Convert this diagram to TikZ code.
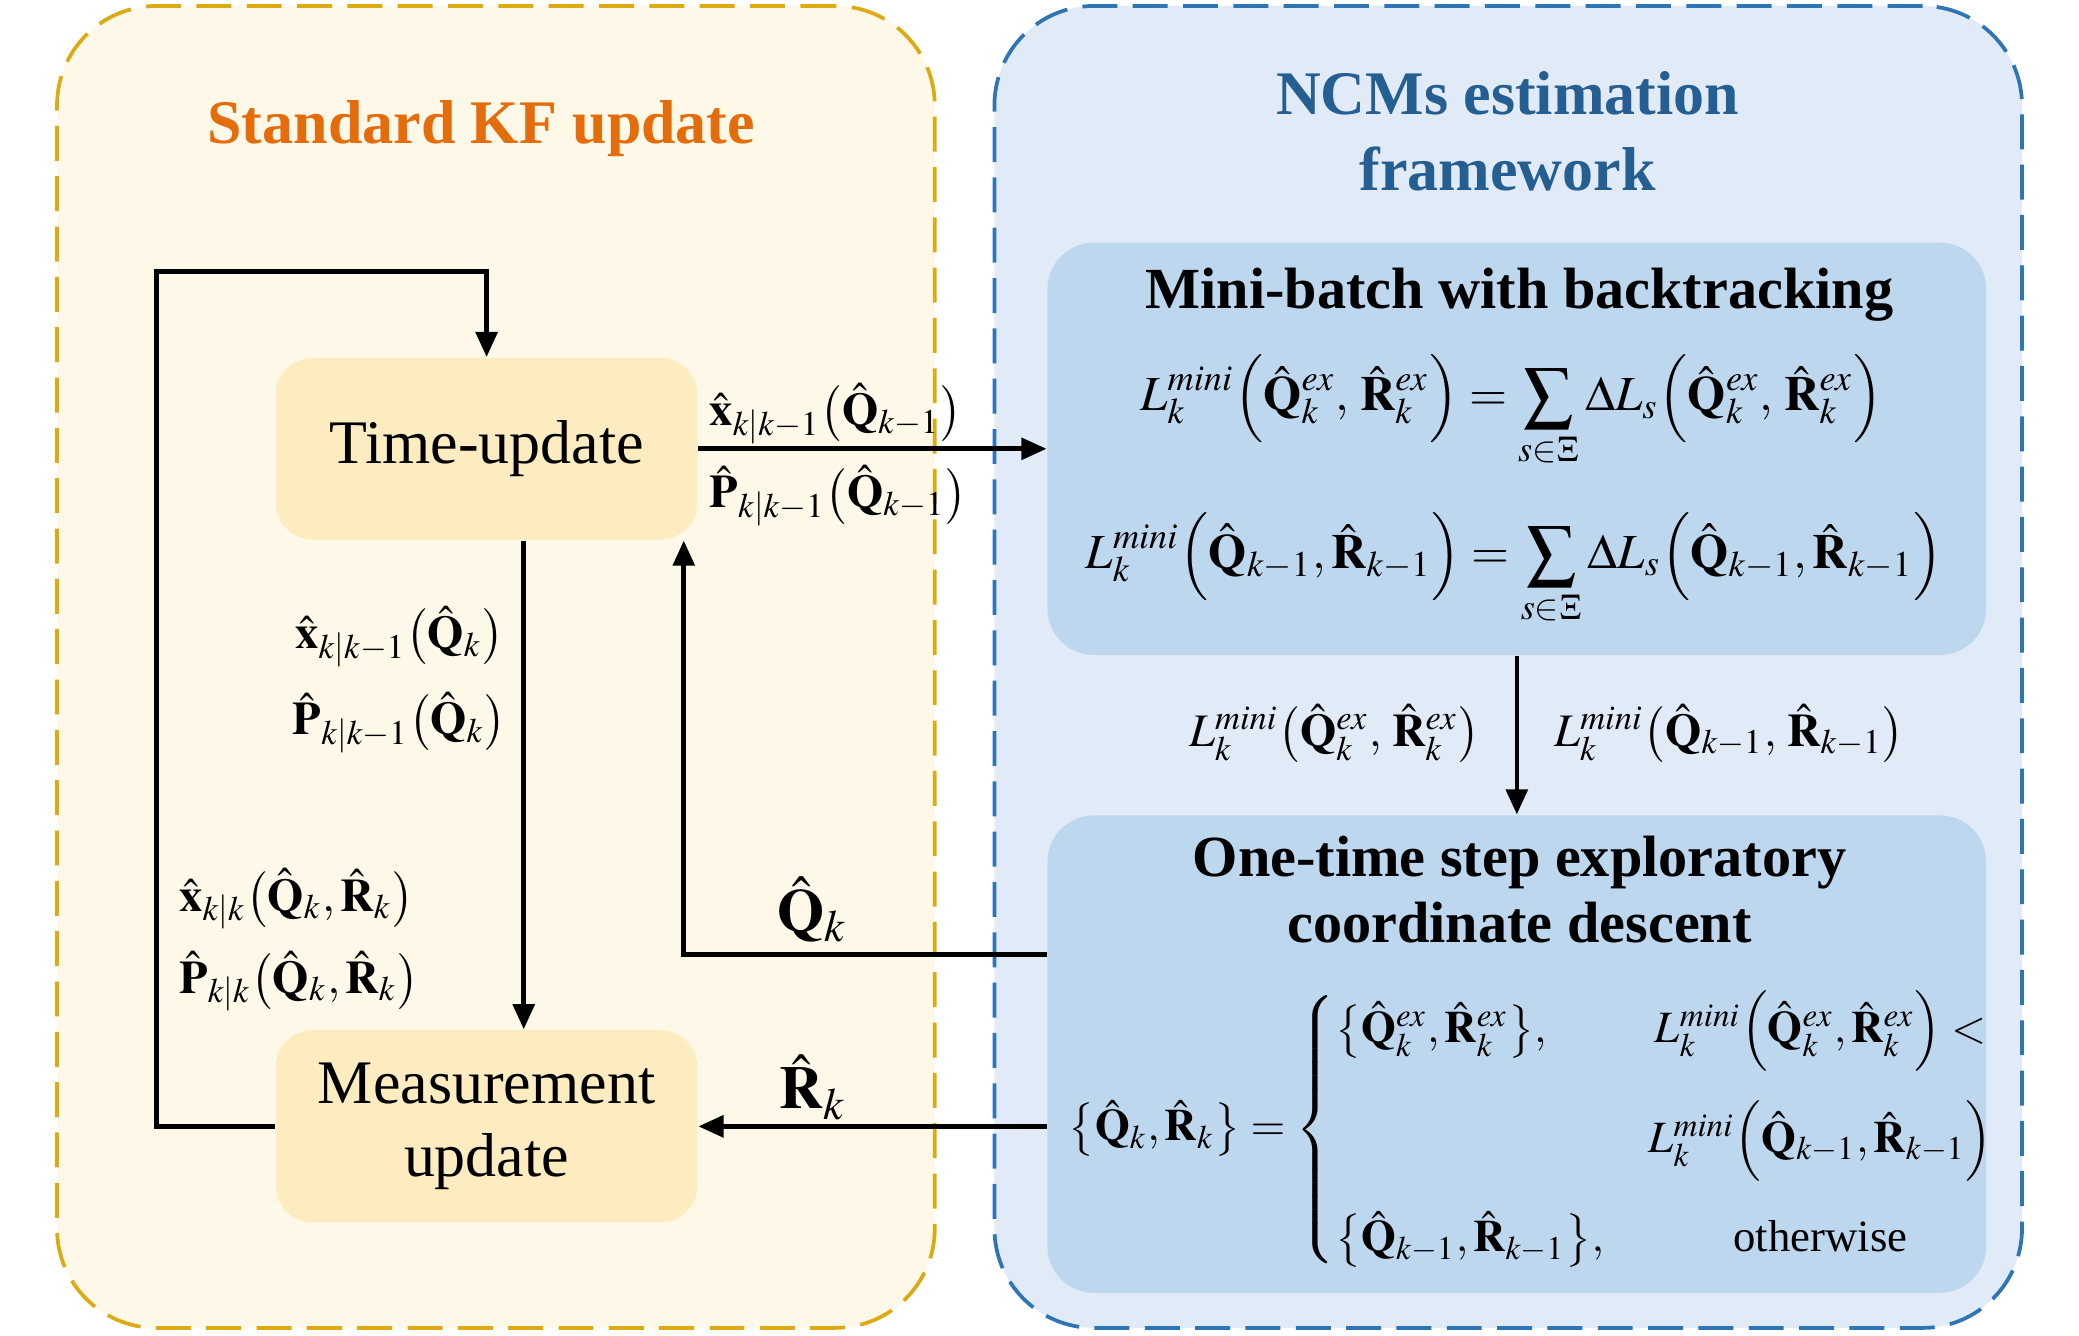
\documentclass[tikz,border=0pt]{standalone}
\usepackage{amsmath}
\usepackage{mathptmx}
\usepackage{fontspec}
\setmainfont{Liberation Serif}
\usetikzlibrary{arrows.meta,positioning}

\definecolor{kffill}{RGB}{254,248,232}
\definecolor{kfline}{RGB}{222,170,20}
\definecolor{kftitle}{RGB}{228,108,10}
\definecolor{tubox}{RGB}{253,236,192}
\definecolor{ncmfill}{RGB}{225,234,247}
\definecolor{ncmline}{RGB}{46,117,182}
\definecolor{ncmtitle}{RGB}{37,94,145}
\definecolor{blbox}{RGB}{189,215,238}

\tikzset{
  panel/.style={line width=0.8pt, rounded corners=0.75cm, dash pattern=on 7.5pt off 3.3pt},
  stepbox/.style={rounded corners=0.28cm, fill=tubox, align=center,
                  minimum width=3.18cm, font=\fontsize{13.3}{15.6}\selectfont},
  blockbox/.style={rounded corners=0.35cm, fill=blbox, minimum width=7.08cm},
  flow/.style={-{Triangle[length=5.4pt,width=4.6pt]}, line width=1pt},
  lbl/.style={font=\fontsize{10}{12}\selectfont, inner sep=1pt},
  fml/.style={font=\fontsize{10.5}{13}\selectfont, inner sep=1pt},
  head/.style={font=\bfseries\fontsize{12.5}{14.2}\selectfont, align=center}
}

\begin{document}
\begin{tikzpicture}
  \useasboundingbox (0,0) rectangle (15.68,-10.076);

  % the two panels
  \node[panel, draw=kfline, fill=kffill, minimum width=6.62cm, minimum height=9.97cm] (kf) at (3.74,-5.03) {};
  \node[panel, draw=ncmline, fill=ncmfill, minimum width=7.75cm, minimum height=9.97cm] (ncm) at (11.375,-5.03) {};

  \node[font=\bfseries\fontsize{13.3}{16}\selectfont, text=kftitle] (kftitle) at (3.63,-0.97) {Standard KF update};
  \node[font=\bfseries\fontsize{13.3}{16.2}\selectfont, text=ncmtitle, align=center] (ncmtitle) at (11.37,-0.99) {NCMs estimation\\framework};

  % KF steps
  \node[stepbox, minimum height=1.37cm] (tu) at (3.67,-3.385) {Time-update};
  \node[stepbox, minimum height=1.45cm] (meas) at (3.67,-8.495) {Measurement\\update};

  % NCMs blocks
  \node[blockbox, minimum height=3.11cm] (mini) at (11.44,-3.385) {};
  \node[blockbox, minimum height=3.60cm] (onetime) at (11.44,-7.95) {};

  \node[head] (minihead) at (11.46,-2.22) {Mini-batch with backtracking};
  \node[fml] (lossex) at (11.40,-3.10)
    {$\displaystyle L_k^{mini}\Bigl(\hat{\mathbf{Q}}_k^{ex},\,\hat{\mathbf{R}}_k^{ex}\Bigr)=\sum_{s\in\Xi}\Delta L_s\Bigl(\hat{\mathbf{Q}}_k^{ex},\,\hat{\mathbf{R}}_k^{ex}\Bigr)$};
  \node[fml] (lossold) at (11.42,-4.29)
    {$\displaystyle L_k^{mini}\Bigl(\hat{\mathbf{Q}}_{k-1},\hat{\mathbf{R}}_{k-1}\Bigr)=\sum_{s\in\Xi}\Delta L_s\Bigl(\hat{\mathbf{Q}}_{k-1},\hat{\mathbf{R}}_{k-1}\Bigr)$};

  \node[head] (onehead) at (11.46,-6.71) {One-time step exploratory\\coordinate descent};
  \node[font=\fontsize{9.6}{12}\selectfont, inner sep=1pt, anchor=west] (choice) at (8.02,-8.52)
    {$\displaystyle \bigl\{\hat{\mathbf{Q}}_k,\hat{\mathbf{R}}_k\bigr\}=\left\{\begin{array}{@{}l@{\quad}c@{}}
      \bigl\{\hat{\mathbf{Q}}_k^{ex},\hat{\mathbf{R}}_k^{ex}\bigr\}, & L_k^{mini}\Bigl(\hat{\mathbf{Q}}_k^{ex},\hat{\mathbf{R}}_k^{ex}\Bigr)<\\[9pt]
      & L_k^{mini}\Bigl(\hat{\mathbf{Q}}_{k-1},\hat{\mathbf{R}}_{k-1}\Bigr)\\[9pt]
      \bigl\{\hat{\mathbf{Q}}_{k-1},\hat{\mathbf{R}}_{k-1}\bigr\}, & \text{otherwise}
    \end{array}\right.$};

  % connectors
  \coordinate (loopcorner) at (1.18,-2.05);
  \draw[flow] (meas.west) -| (loopcorner) -| (tu.north);
  \draw[flow] ([xshift=0.28cm]tu.south) -- ([xshift=0.28cm]meas.north);
  \draw[flow] (tu.east) -- (tu.east -| mini.west);
  \draw[flow] ([yshift=0.75cm]onetime.west) -| ([xshift=-0.11cm]tu.south east);
  \draw[flow] (meas.east -| onetime.west) -- (meas.east);
  \draw[flow] (mini.south) -- (onetime.north);

  % labels on the connectors
  \node[lbl, anchor=west] (xpred) at (5.31,-3.12) {$\hat{\mathbf{x}}_{k|k-1}\bigl(\hat{\mathbf{Q}}_{k-1}\bigr)$};
  \node[lbl, anchor=west] (ppred) at (5.31,-3.74) {$\hat{\mathbf{P}}_{k|k-1}\bigl(\hat{\mathbf{Q}}_{k-1}\bigr)$};
  \node[lbl, anchor=east] (xpredk) at (3.84,-4.80) {$\hat{\mathbf{x}}_{k|k-1}\bigl(\hat{\mathbf{Q}}_k\bigr)$};
  \node[lbl, anchor=east] (ppredk) at (3.86,-5.45) {$\hat{\mathbf{P}}_{k|k-1}\bigl(\hat{\mathbf{Q}}_k\bigr)$};
  \node[lbl, anchor=west] (xfilt) at (1.31,-6.78) {$\hat{\mathbf{x}}_{k|k}\bigl(\hat{\mathbf{Q}}_k,\hat{\mathbf{R}}_k\bigr)$};
  \node[lbl, anchor=west] (pfilt) at (1.31,-7.40) {$\hat{\mathbf{P}}_{k|k}\bigl(\hat{\mathbf{Q}}_k,\hat{\mathbf{R}}_k\bigr)$};
  \node[font=\fontsize{13}{15}\selectfont] (qk) at (6.13,-6.86) {$\hat{\mathbf{Q}}_k$};
  \node[font=\fontsize{13}{15}\selectfont] (rk) at (6.13,-8.20) {$\hat{\mathbf{R}}_k$};
  \node[lbl, anchor=east] (lex) at (11.20,-5.53) {$L_k^{mini}\bigl(\hat{\mathbf{Q}}_k^{ex},\,\hat{\mathbf{R}}_k^{ex}\bigr)$};
  \node[lbl, anchor=west] (lold) at (11.68,-5.53) {$L_k^{mini}\bigl(\hat{\mathbf{Q}}_{k-1},\,\hat{\mathbf{R}}_{k-1}\bigr)$};
\end{tikzpicture}
\end{document}
